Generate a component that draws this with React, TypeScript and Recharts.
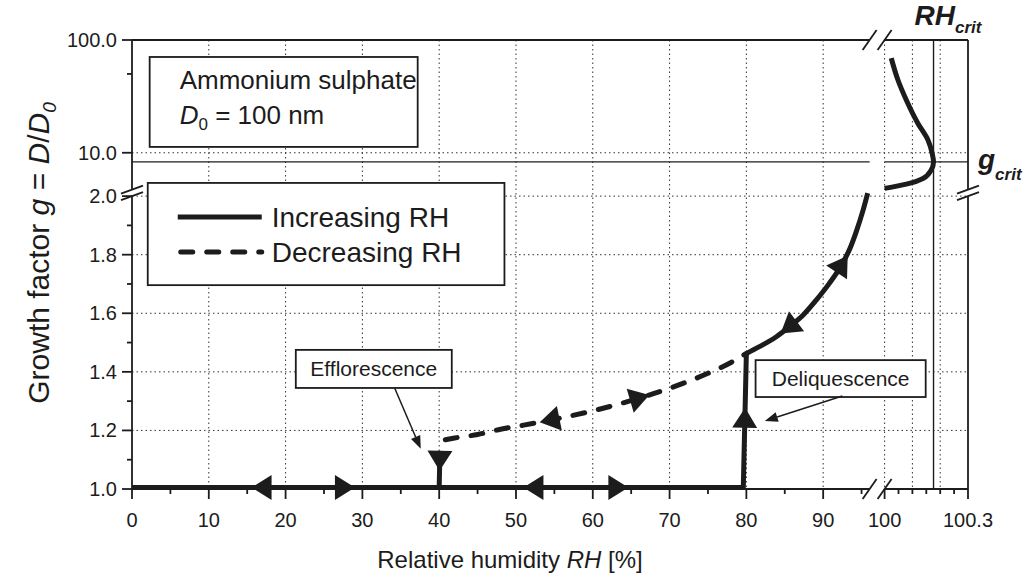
import React from 'react';
import {
  ComposedChart,
  Line,
  Scatter,
  XAxis,
  YAxis,
  CartesianGrid,
  ReferenceLine,
  ReferenceDot,
  ReferenceArea,
} from 'recharts';

const FONT = '"Liberation Sans", Arial, Helvetica, sans-serif';
const INK = '#1c1c1c';

const WIDTH = 1028;
const HEIGHT = 586;
const MARGIN = { top: 40, right: 60, bottom: 0, left: 0 };
const Y_AXIS_W = 132;
const X_AXIS_H = 97;
const PLOT_W = WIDTH - MARGIN.left - MARGIN.right - Y_AXIS_W;
const PLOT_H = HEIGHT - MARGIN.top - MARGIN.bottom - X_AXIS_H;

// Broken x axis: 0–96 % RH linear, then 100.0–100.3 % stretched out
const X_LIN_END = 96.05;
const X_HI_0 = 98.0;
const X_HI_K = 36.2;
const X_MAX = X_HI_0 + 0.3 * X_HI_K;
const toX = (rh: number) => (rh < 99 ? rh : X_HI_0 + (rh - 100) * X_HI_K);

// Broken y axis: g 1.0–2.0 linear, then log scale up to 100
const Y_LIN_END = 2.0;
const Y_LOG_START = 2.022;
const Y_AT_10 = 2.148;
const Y_DECADE = 0.385;
const toY = (g: number) => (g < 3 ? g : Y_AT_10 + (Math.log10(g) - 1) * Y_DECADE);
const Y_MAX = toY(100);

const KX = PLOT_W / X_MAX;
const KY = PLOT_H / (Y_MAX - 1);

// ---- data ----
// dry particle, increasing RH, up to deliquescence
const dryRH = [0, 79.6, 80.0];
const dryG = [1.005, 1.005, 1.463];
// solution droplet growth above deliquescence
const growRH = [80.0, 81.7, 83.9, 85.6, 87.4, 89.1, 90.8, 92.4, 93.5, 94.3, 95.2, 95.8];
const growG = [1.463, 1.486, 1.52, 1.554, 1.594, 1.645, 1.702, 1.765, 1.822, 1.878, 1.952, 2.01];
// metastable branch, decreasing RH
const decRH = [40.8, 42, 45, 48, 51, 54, 57, 60, 63, 66, 69, 72, 75, 78, 80.0];
const decG = [1.168, 1.174, 1.186, 1.204, 1.218, 1.233, 1.249, 1.267, 1.287, 1.31, 1.335, 1.363, 1.395, 1.432, 1.463];
// efflorescence drop
const effRH = [40.1, 40.0];
const effG = [1.13, 1.005];
// Köhler curve near saturation
const kohRH = [100.0, 100.078, 100.138, 100.167, 100.176, 100.171, 100.156, 100.12, 100.078, 100.048, 100.024];
const kohG = [4.83, 5.27, 5.92, 7.0, 8.3, 9.9, 13.0, 18.2, 29.4, 44.2, 69];

const RH_CRIT = 100.176;
const G_CRIT = 8.3;

// arrow heads: where they sit and which way they point along their curve
const dryArrowRH = [17, 27.6, 52.4, 63.2];
const dryArrowDir = [-1, 1, -1, 1];
const growArrowRH = [85.6, 92.4];
const growArrowDir = [-1, 1];
const decArrowRH = [54.5, 66];
const decArrowDir = [-1, 1];
const deliqArrowG = 1.24;
const efflArrowG = 1.1;

// ticks
const xMajorRH = [0, 10, 20, 30, 40, 50, 60, 70, 80, 90, 100, 100.3];
const xMajorLabels = ['0', '10', '20', '30', '40', '50', '60', '70', '80', '90', '100', '100.3'];
const xMinorRH = [5, 15, 25, 35, 45, 55, 65, 75, 85, 95, 100.05, 100.1, 100.15, 100.2, 100.25];
const xGridRH = [10, 20, 30, 40, 50, 60, 70, 80, 90, 100, 100.1, 100.2];
const yMajorG = [1.0, 1.2, 1.4, 1.6, 1.8, 2.0, 10, 100];
const yMajorLabels = ['1.0', '1.2', '1.4', '1.6', '1.8', '2.0', '10.0', '100.0'];
const yMinorG = [1.1, 1.3, 1.5, 1.7, 1.9, 50];
const yGridG = [1.2, 1.4, 1.6, 1.8, 2.0, 10];

const toPoints = (rh: number[], g: number[]) => rh.map((r, i) => ({ x: toX(r), y: toY(g[i]) }));

function arrowOn(rh: number[], g: number[], by: 'rh' | 'g', at: number, dir: number) {
  const key = by === 'rh' ? rh : g;
  for (let i = 0; i < key.length - 1; i++) {
    const a = key[i];
    const b = key[i + 1];
    if (a === b || (at - a) * (at - b) > 0) continue;
    const t = (at - a) / (b - a);
    const r = rh[i] + t * (rh[i + 1] - rh[i]);
    const gg = g[i] + t * (g[i + 1] - g[i]);
    const dx = (toX(rh[i + 1]) - toX(rh[i])) * KX * dir;
    const dy = -(toY(g[i + 1]) - toY(g[i])) * KY * dir;
    return { x: toX(r), y: toY(gg), angle: (Math.atan2(dy, dx) * 180) / Math.PI };
  }
  return null;
}

const arrows = [
  ...dryArrowRH.map((r, i) => arrowOn(dryRH, dryG, 'rh', r, dryArrowDir[i])),
  arrowOn(dryRH, dryG, 'g', deliqArrowG, 1),
  ...growArrowRH.map((r, i) => arrowOn(growRH, growG, 'rh', r, growArrowDir[i])),
  ...decArrowRH.map((r, i) => arrowOn(decRH, decG, 'rh', r, decArrowDir[i])),
  arrowOn(effRH, effG, 'g', efflArrowG, 1),
].filter(Boolean);

const key3 = (v: number) => v.toFixed(3);
const xLabelMap = new Map(xMajorRH.map((r, i) => [key3(toX(r)), xMajorLabels[i]]));
const yLabelMap = new Map(yMajorG.map((g, i) => [key3(toY(g)), yMajorLabels[i]]));
const xTicks = [...xMajorRH, ...xMinorRH].map(toX).sort((a, b) => a - b);
const yTicks = [...yMajorG, ...yMinorG].map(toY).sort((a, b) => a - b);

// annotation boxes and pointers, in plot units
const BOX_INFO = { x1: 2.3, x2: 37.2, y1: 2.168, y2: 2.475 };
const BOX_LEGEND = { x1: 2.05, x2: 48.5, y1: 1.696, y2: 2.045 };
const BOX_EFFL = { x1: 21.33, x2: 41.64, y1: 1.345, y2: 1.475 };
const BOX_DELIQ = { x1: 81.2, x2: 103.35, y1: 1.314, y2: 1.44 };
const PTR_EFFL = [{ x: 34.2, y: 1.345 }, { x: 37.6, y: 1.137 }];
const PTR_DELIQ = [{ x: 92.5, y: 1.3175 }, { x: 82.4, y: 1.232 }];

// ---- drawing pieces ----
function XTick(props: any) {
  const { x, y, payload } = props;
  const label = xLabelMap.get(key3(payload.value));
  const len = label !== undefined ? 10 : 5;
  return (
    <g>
      <line x1={x} y1={y} x2={x} y2={y + len} stroke={INK} strokeWidth={1.8} />
      {label !== undefined && (
        <text x={x} y={y + 38} textAnchor="middle" fontSize={20} fill={INK} fontFamily={FONT}>
          {label}
        </text>
      )}
    </g>
  );
}

function YTick(props: any) {
  const { x, y, payload } = props;
  const label = yLabelMap.get(key3(payload.value));
  const len = label !== undefined ? 10 : 5;
  return (
    <g>
      <line x1={x - len} y1={y} x2={x} y2={y} stroke={INK} strokeWidth={1.8} />
      {label !== undefined && (
        <text x={x - 15} y={y + 7} textAnchor="end" fontSize={20} fill={INK} fontFamily={FONT}>
          {label}
        </text>
      )}
    </g>
  );
}

function XTitle(props: any) {
  const vb = props?.viewBox ?? { x: Y_AXIS_W, y: MARGIN.top + PLOT_H };
  return (
    <text x={vb.x + 378} y={vb.y + 79} textAnchor="middle" fontSize={24} fill={INK} fontFamily={FONT}>
      Relative humidity <tspan fontStyle="italic">RH</tspan> [%]
    </text>
  );
}

function YTitle(props: any) {
  const vb = props?.viewBox ?? { x: 0, y: MARGIN.top };
  const cx = vb.x + 49;
  const cy = vb.y + 213;
  return (
    <text
      x={cx}
      y={cy}
      transform={`rotate(-90 ${cx} ${cy})`}
      textAnchor="middle"
      fontSize={30}
      fill={INK}
      fontFamily={FONT}
    >
      Growth factor <tspan fontStyle="italic">g</tspan> = <tspan fontStyle="italic">D</tspan>/
      <tspan fontStyle="italic">D</tspan>
      <tspan fontStyle="italic" fontSize={19} dy={7}>0</tspan>
    </text>
  );
}

function ArrowHead(props: any) {
  const { cx, cy, payload } = props;
  const a = (payload.angle * Math.PI) / 180;
  const len = 20;
  const half = 12.5;
  const ux = Math.cos(a);
  const uy = Math.sin(a);
  const tx = cx + ux * len * 0.55;
  const ty = cy + uy * len * 0.55;
  const bx = cx - ux * len * 0.45;
  const by = cy - uy * len * 0.45;
  const pts = [
    [tx, ty],
    [bx - uy * half, by + ux * half],
    [bx + uy * half, by - ux * half],
  ]
    .map((p) => p.join(','))
    .join(' ');
  return <polygon points={pts} fill={INK} />;
}

function Pointer(props: any) {
  const { x1, y1, x2, y2 } = props;
  const a = Math.atan2(y2 - y1, x2 - x1);
  const ux = Math.cos(a);
  const uy = Math.sin(a);
  const hl = 13;
  const hw = 5;
  const bx = x2 - ux * hl;
  const by = y2 - uy * hl;
  const pts = `${x2},${y2} ${bx - uy * hw},${by + ux * hw} ${bx + uy * hw},${by - ux * hw}`;
  return (
    <g>
      <line x1={x1} y1={y1} x2={bx} y2={by} stroke={INK} strokeWidth={1.5} />
      <polygon points={pts} fill={INK} />
    </g>
  );
}

const XSlash = (p: any) => (
  <line x1={p.cx - 7} y1={p.cy + 10} x2={p.cx + 7} y2={p.cy - 10} stroke={INK} strokeWidth={1.8} />
);
const YSlash = (p: any) => (
  <line x1={p.cx - 11} y1={p.cy + 4} x2={p.cx + 11} y2={p.cy - 4} stroke={INK} strokeWidth={1.8} />
);

const frameRect = (p: any) => (
  <rect x={p.x} y={p.y} width={p.width} height={p.height} fill="#fff" stroke={INK} strokeWidth={1.8} />
);

const InfoBox = (p: any) => (
  <g>
    {frameRect(p)}
    <text x={p.x + 30} y={p.y + 32} fontSize={26} fill={INK} fontFamily={FONT}>
      Ammonium sulphate
    </text>
    <text x={p.x + 30} y={p.y + 67} fontSize={26} fill={INK} fontFamily={FONT}>
      <tspan fontStyle="italic">D</tspan>
      <tspan fontSize={17} dy={6}>0</tspan>
      <tspan dy={-6}> = 100 nm</tspan>
    </text>
  </g>
);

const LegendBox = (p: any) => (
  <g>
    {frameRect(p)}
    <line x1={p.x + 30} y1={p.y + 34} x2={p.x + 114} y2={p.y + 34} stroke={INK} strokeWidth={5} />
    <line
      x1={p.x + 33}
      y1={p.y + 69}
      x2={p.x + 114}
      y2={p.y + 69}
      stroke={INK}
      strokeWidth={5}
      strokeDasharray="12 14"
      strokeLinecap="round"
    />
    <text x={p.x + 124} y={p.y + 44} fontSize={28} fill={INK} fontFamily={FONT}>
      Increasing RH
    </text>
    <text x={p.x + 124} y={p.y + 79} fontSize={28} fill={INK} fontFamily={FONT}>
      Decreasing RH
    </text>
  </g>
);

const noteBox = (label: string) => (p: any) => (
  <g>
    {frameRect(p)}
    <text
      x={p.x + p.width / 2}
      y={p.y + p.height / 2 + 7}
      textAnchor="middle"
      fontSize={21}
      fill={INK}
      fontFamily={FONT}
    >
      {label}
    </text>
  </g>
);

const RhCritLabel = (p: any) => (
  <text x={p.cx - 19} y={p.cy - 15} fontSize={28} fontWeight="bold" fontStyle="italic" fill={INK} fontFamily={FONT}>
    RH<tspan fontSize={17} dy={8}>crit</tspan>
  </text>
);

const GCritLabel = (p: any) => (
  <text x={p.cx + 10} y={p.cy + 7} fontSize={28} fontWeight="bold" fontStyle="italic" fill={INK} fontFamily={FONT}>
    g<tspan fontSize={17} dy={11}>crit</tspan>
  </text>
);

const seg = (x1: number, y1: number, x2: number, y2: number) => [
  { x: x1, y: y1 },
  { x: x2, y: y2 },
];

const frameSegments = [
  seg(0, 1, X_LIN_END, 1),
  seg(X_HI_0, 1, X_MAX, 1),
  seg(0, Y_MAX, X_LIN_END, Y_MAX),
  seg(X_HI_0, Y_MAX, X_MAX, Y_MAX),
  seg(0, 1, 0, Y_LIN_END),
  seg(0, Y_LOG_START, 0, Y_MAX),
  seg(X_MAX, 1, X_MAX, Y_LIN_END),
  seg(X_MAX, Y_LOG_START, X_MAX, Y_MAX),
];

const critSegments = [
  seg(0, toY(G_CRIT), X_LIN_END, toY(G_CRIT)),
  seg(X_HI_0, toY(G_CRIT), X_MAX, toY(G_CRIT)),
  seg(toX(RH_CRIT), 1, toX(RH_CRIT), Y_MAX),
];

const lineProps = {
  dataKey: 'y',
  stroke: INK,
  strokeWidth: 5,
  dot: false,
  activeDot: false,
  isAnimationActive: false,
  legendType: 'none' as const,
};

export default function App() {
  return (
    <div style={{ position: 'absolute', left: 0, top: 0, width: WIDTH, height: HEIGHT, background: '#fff' }}>
      <ComposedChart width={WIDTH} height={HEIGHT} margin={MARGIN} style={{ fontFamily: FONT }}>
        <CartesianGrid
          horizontalValues={yGridG.map(toY)}
          verticalValues={xGridRH.map(toX)}
          stroke="#333"
          strokeWidth={1}
          strokeDasharray="1.5 3"
        />
        <XAxis
          type="number"
          dataKey="x"
          domain={[0, X_MAX]}
          ticks={xTicks}
          interval={0}
          tick={<XTick />}
          tickLine={false}
          axisLine={false}
          tickSize={0}
          tickMargin={0}
          height={X_AXIS_H}
          label={XTitle}
        />
        <YAxis
          type="number"
          dataKey="y"
          domain={[1, Y_MAX]}
          ticks={yTicks}
          interval={0}
          tick={<YTick />}
          tickLine={false}
          axisLine={false}
          tickSize={0}
          tickMargin={0}
          width={Y_AXIS_W}
          label={YTitle}
        />

        {frameSegments.map((s, i) => (
          <ReferenceLine key={`f${i}`} segment={s} stroke={INK} strokeWidth={1.8} ifOverflow="visible" />
        ))}
        {critSegments.map((s, i) => (
          <ReferenceLine key={`c${i}`} segment={s} stroke={INK} strokeWidth={1.4} ifOverflow="visible" />
        ))}
        {[X_LIN_END, X_HI_0].map((x) =>
          [1, Y_MAX].map((y) => (
            <ReferenceDot key={`xb${x}-${y}`} x={x} y={y} r={0} shape={XSlash} ifOverflow="visible" />
          )),
        )}
        {[0, X_MAX].map((x) =>
          [Y_LIN_END, Y_LOG_START].map((y) => (
            <ReferenceDot key={`yb${x}-${y}`} x={x} y={y} r={0} shape={YSlash} ifOverflow="visible" />
          )),
        )}

        <Line {...lineProps} data={toPoints(dryRH, dryG)} type="linear" />
        <Line {...lineProps} data={toPoints(growRH, growG)} type="monotone" />
        <Line {...lineProps} data={toPoints(decRH, decG)} type="monotone" strokeDasharray="12 14" strokeLinecap="round" />
        <Line {...lineProps} data={toPoints(effRH, effG)} type="linear" />
        <Line {...lineProps} data={toPoints(kohRH, kohG)} type="monotoneY" />
        <Scatter data={arrows as any[]} dataKey="y" shape={ArrowHead} isAnimationActive={false} legendType="none" />

        <ReferenceArea {...BOX_INFO} shape={InfoBox} ifOverflow="visible" />
        <ReferenceArea {...BOX_LEGEND} shape={LegendBox} ifOverflow="visible" />
        <ReferenceArea {...BOX_EFFL} shape={noteBox('Efflorescence')} ifOverflow="visible" />
        <ReferenceArea {...BOX_DELIQ} shape={noteBox('Deliquescence')} ifOverflow="visible" />
        <ReferenceLine segment={PTR_EFFL} shape={Pointer} ifOverflow="visible" />
        <ReferenceLine segment={PTR_DELIQ} shape={Pointer} ifOverflow="visible" />

        <ReferenceDot x={toX(RH_CRIT)} y={Y_MAX} r={0} shape={RhCritLabel} ifOverflow="visible" />
        <ReferenceDot x={X_MAX} y={toY(G_CRIT)} r={0} shape={GCritLabel} ifOverflow="visible" />
      </ComposedChart>
    </div>
  );
}
